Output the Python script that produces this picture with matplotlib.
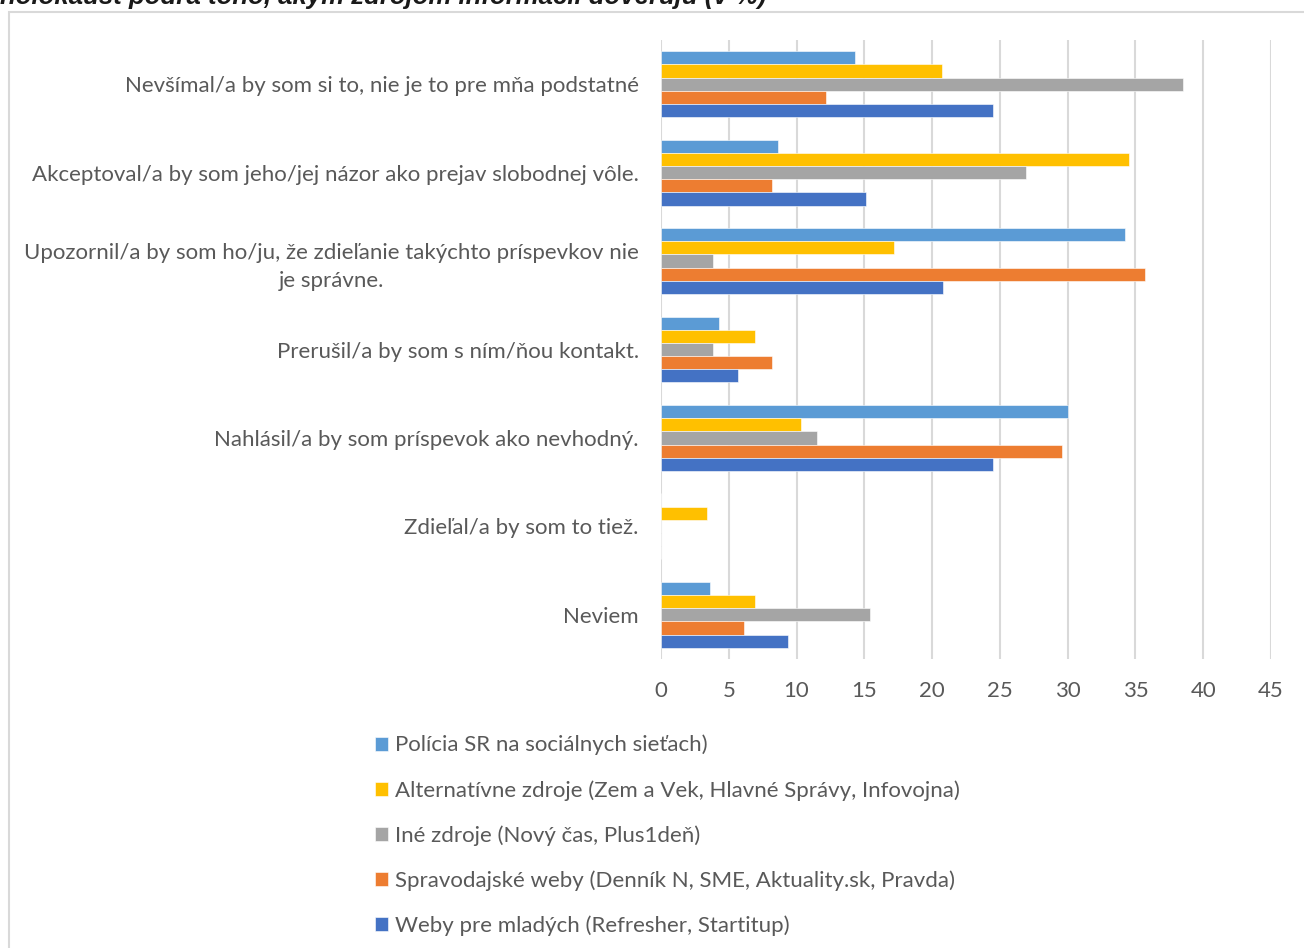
import matplotlib.pyplot as plt
import numpy as np
from matplotlib.patches import Rectangle

categories = [
    "Nevšímal/a by som si to, nie je to pre mňa podstatné",
    "Akceptoval/a by som jeho/jej názor ako prejav slobodnej vôle.",
    "Upozornil/a by som ho/ju, že zdieľanie takýchto príspevkov nie\nje správne.",
    "Prerušil/a by som s ním/ňou kontakt.",
    "Nahlásil/a by som príspevok ako nevhodný.",
    "Zdieľal/a by som to tiež.",
    "Neviem",
]

policia = [14.3, 8.6, 34.2, 4.3, 30.0, 0, 3.6]
alternativne = [20.7, 34.5, 17.2, 6.9, 10.3, 3.4, 6.9]
ine = [38.5, 26.9, 3.8, 3.8, 11.5, 0, 15.4]
spravodajske = [12.2, 8.2, 35.7, 8.2, 29.6, 0, 6.1]
mladi = [24.5, 15.1, 20.8, 5.7, 24.5, 0, 9.4]

series = [
    ("Polícia SR na sociálnych sieťach)", policia, "#5b9bd5"),
    ("Alternatívne zdroje (Zem a Vek, Hlavné Správy, Infovojna)", alternativne, "#ffc000"),
    ("Iné zdroje (Nový čas, Plus1deň)", ine, "#a5a5a5"),
    ("Spravodajské weby (Denník N, SME, Aktuality.sk, Pravda)", spravodajske, "#ed7d31"),
    ("Weby pre mladých (Refresher, Startitup)", mladi, "#4472c4"),
]

title = "holokaust podľa toho, akým zdrojom informácií dôverujú (v %)"

plt.rcParams["font.family"] = ["Lato", "DejaVu Sans"]

W, H = 1304, 948
fig = plt.figure(figsize=(W / 100, H / 100), dpi=100)
ax = fig.add_axes([661 / W, 1 - 659 / H, (1271 - 661) / W, (659 - 40) / H])

y = np.arange(len(categories))
h = 0.149
for i, (label, vals, col) in enumerate(series):
    ax.barh(y + (i - 2) * h, vals, height=h, color=col, label=label,
            edgecolor="white", linewidth=0.4, zorder=3)

ax.set_xlim(0, 45)
ax.set_ylim(len(categories) - 0.5, -0.5)
ax.set_xticks(np.arange(0, 46, 5))
ax.set_yticks(y)
ax.set_yticklabels(categories, multialignment="center", linespacing=1.5)
ax.tick_params(length=0, labelsize=16, colors="#595959")
ax.tick_params(axis="y", pad=16)
ax.tick_params(axis="x", pad=16)
ax.grid(axis="x", color="#d9d9d9", linewidth=1.5, zorder=0)
for s in ax.spines.values():
    s.set_visible(False)

# outer chart border (cut off at right and bottom)
fig.patches.append(Rectangle((9 / W, -0.1), 1.2, 1 - 12 / H + 0.1,
                             transform=fig.transFigure, fill=False,
                             edgecolor="#d9d9d9", linewidth=1.5))

fig.text(0, 1 - 4 / H, title, fontsize=18.5, fontweight="bold", fontstyle="italic",
         family=["Liberation Sans", "DejaVu Sans"], va="baseline", ha="left", color="#1a1a1a")

leg = fig.legend(loc="upper left", bbox_to_anchor=(366 / W, 1 - 726 / H),
                 frameon=False, fontsize=16, handlelength=0.6, handleheight=0.6,
                 handletextpad=0.3, labelspacing=1.1, borderaxespad=0)
for t in leg.get_texts():
    t.set_color("#595959")

fig.savefig("out.png", dpi=100)
